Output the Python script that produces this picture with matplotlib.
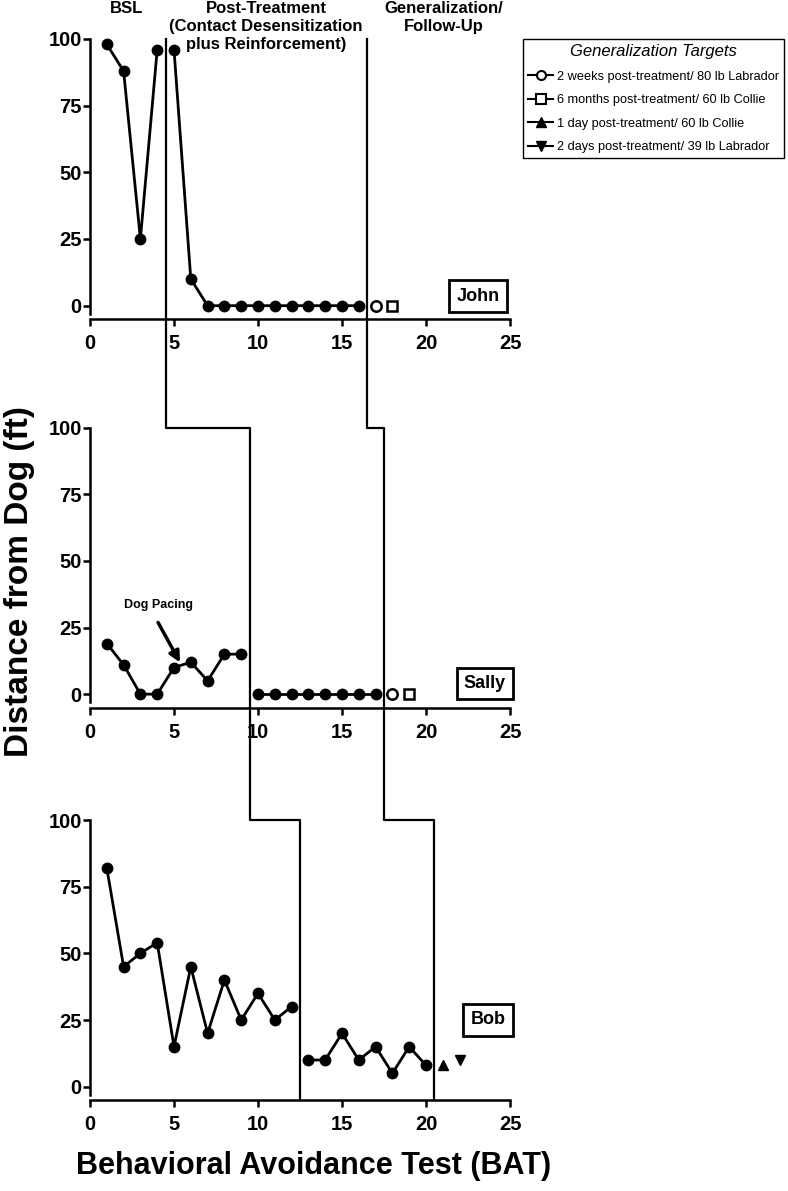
import matplotlib
matplotlib.use("Agg")
import matplotlib.pyplot as plt
from matplotlib.lines import Line2D

plt.rcParams['font.family'] = ['Liberation Sans', 'DejaVu Sans']
plt.rcParams['font.weight'] = 'bold'

# John
john_bsl_x = [1, 2, 3, 4]
john_bsl_y = [98, 88, 25, 96]
john_tx_x = [5, 6, 7, 8, 9, 10, 11, 12, 13, 14, 15, 16]
john_tx_y = [96, 10, 0, 0, 0, 0, 0, 0, 0, 0, 0, 0]
john_gen1 = (17, 0)
john_gen2 = (18, 0)

# Sally
sally_bsl_x = [1, 2, 3, 4, 5, 6, 7, 8, 9]
sally_bsl_y = [19, 11, 0, 0, 10, 12, 5, 15, 15]
sally_tx_x = [10, 11, 12, 13, 14, 15, 16, 17]
sally_tx_y = [0, 0, 0, 0, 0, 0, 0, 0]
sally_gen1 = (18, 0)
sally_gen2 = (19, 0)

# Bob
bob_bsl_x = [1, 2, 3, 4, 5, 6, 7, 8, 9, 10, 11, 12]
bob_bsl_y = [82, 45, 50, 54, 15, 45, 20, 40, 25, 35, 25, 30]
bob_tx_x = [13, 14, 15, 16, 17, 18, 19, 20]
bob_tx_y = [10, 10, 20, 10, 15, 5, 15, 8]
bob_gen3 = (21, 8)
bob_gen4 = (22, 10)

# phase change lines (x position in each panel)
phase1 = [4.5, 9.5, 12.5]
phase2 = [16.5, 17.5, 20.5]

legend_labels = ['2 weeks post-treatment/ 80 lb Labrador',
                 '6 months post-treatment/ 60 lb Collie',
                 '1 day post-treatment/ 60 lb Collie',
                 '2 days post-treatment/ 39 lb Labrador']

W, H = 788, 1191
fig = plt.figure(figsize=(W / 100, H / 100), dpi=100)

left = 90 / W
width = 420 / W
height = 280 / H
bottoms = [1 - 319 / H, 1 - 707.5 / H, 1 - 1100 / H]
axes = [fig.add_axes([left, b, width, height]) for b in bottoms]

for ax in axes:
    ax.set_xlim(0, 25)
    ax.set_ylim(-5, 100)
    ax.set_xticks([0, 5, 10, 15, 20, 25])
    ax.set_yticks([0, 25, 50, 75, 100])
    for s in ['top', 'right']:
        ax.spines[s].set_visible(False)
    for s in ['left', 'bottom']:
        ax.spines[s].set_linewidth(1.8)
    ax.spines['left'].set_bounds(-3, 100)
    ax.tick_params(axis='both', width=1.8, length=5, labelsize=14.5)
    ax.tick_params(axis='x', pad=6)
    ax.tick_params(axis='y', pad=1)
    ax.patch.set_alpha(0)

pt = dict(color='black', marker='o', ms=7.5, lw=2, clip_on=False)

def plot_person(ax, bx, by, tx, ty):
    ax.plot(bx, by, **pt)
    ax.plot(tx, ty, **pt)

plot_person(axes[0], john_bsl_x, john_bsl_y, john_tx_x, john_tx_y)
plot_person(axes[1], sally_bsl_x, sally_bsl_y, sally_tx_x, sally_tx_y)
plot_person(axes[2], bob_bsl_x, bob_bsl_y, bob_tx_x, bob_tx_y)

open_c = dict(ls='none', mfc='white', mec='black', mew=1.8, ms=7.5, clip_on=False)
axes[0].plot(*john_gen1, marker='o', **open_c)
axes[0].plot(*john_gen2, marker='s', **open_c)
axes[1].plot(*sally_gen1, marker='o', **open_c)
axes[1].plot(*sally_gen2, marker='s', **open_c)
axes[2].plot(*bob_gen3, marker='^', ls='none', color='black', ms=7)
axes[2].plot(*bob_gen4, marker='v', ls='none', color='black', ms=7)

box = dict(boxstyle='square,pad=0.4', fc='white', ec='black', lw=2)
axes[0].text(23.1, 3.6, 'John', ha='center', va='center', fontsize=13, bbox=box)
axes[1].text(23.5, 4.0, 'Sally', ha='center', va='center', fontsize=13, bbox=box)
axes[2].text(23.7, 25, 'Bob', ha='center', va='center', fontsize=13, bbox=box)

axes[1].text(4.1, 33.6, 'Dog Pacing', ha='center', va='center', fontsize=9)
axes[1].annotate('', xy=(5.36, 11.9), xytext=(4.05, 26.9),
                 arrowprops=dict(arrowstyle='-|>', lw=2.5, color='black',
                                 mutation_scale=16, shrinkA=0, shrinkB=0))

# staggered phase lines across the three panels
to_fig = fig.transFigure.inverted()

def fpt(ax, x, y):
    return to_fig.transform(ax.transData.transform((x, y)))

for ph in (phase1, phase2):
    pts = [fpt(axes[0], ph[0], 100), fpt(axes[1], ph[0], 100),
           fpt(axes[1], ph[1], 100), fpt(axes[2], ph[1], 100),
           fpt(axes[2], ph[2], 100), fpt(axes[2], ph[2], -5)]
    fig.add_artist(Line2D([p[0] for p in pts], [p[1] for p in pts],
                          color='black', lw=1.6, transform=fig.transFigure))

# phase headers
hdr = dict(ha='center', va='top', fontsize=12, linespacing=1.25)
top_y = 1 - 1 / H
fig.text(127 / W, top_y, 'BSL', **hdr)
fig.text(266 / W, top_y, 'Post-Treatment\n(Contact Desensitization\nplus Reinforcement)', **hdr)
fig.text(444 / W, top_y, 'Generalization/\nFollow-Up', **hdr)

fig.text(20 / W, 1 - 582 / H, 'Distance from Dog (ft)', rotation=90,
         ha='center', va='center', fontsize=24)
fig.text(76 / W, 1 - 1174 / H, 'Behavioral Avoidance Test (BAT)',
         ha='left', va='baseline', fontsize=22)

# legend
handles = [Line2D([], [], color='black', lw=1.5, marker='o', mfc='white', mew=1.5, ms=6.5),
           Line2D([], [], color='black', lw=1.5, marker='s', mfc='white', mew=1.5, ms=6.5),
           Line2D([], [], color='black', lw=1.5, marker='^', ms=6.5),
           Line2D([], [], color='black', lw=1.5, marker='v', ms=6.5)]
leg = fig.legend(handles, legend_labels, loc='upper right',
                 bbox_to_anchor=(784 / W, 1 - 39 / H), borderaxespad=0,
                 title='Generalization Targets', frameon=True, fancybox=False,
                 edgecolor='black', framealpha=1,
                 prop={'size': 9.2, 'weight': 'normal'},
                 title_fontproperties={'size': 12, 'style': 'italic', 'weight': 'normal'},
                 handlelength=1.95, handletextpad=0.3, labelspacing=0.9, borderpad=0.4)
leg.get_frame().set_linewidth(1.0)

fig.canvas.draw()
tb = leg.get_title().get_window_extent()
p0 = to_fig.transform((tb.x0, tb.y0 + 1))
p1 = to_fig.transform((tb.x1, tb.y0 + 1))
fig.add_artist(Line2D([p0[0], p1[0]], [p0[1], p1[1]], color='black', lw=0.8,
                      transform=fig.transFigure))

fig.savefig('out.png', dpi=100)
